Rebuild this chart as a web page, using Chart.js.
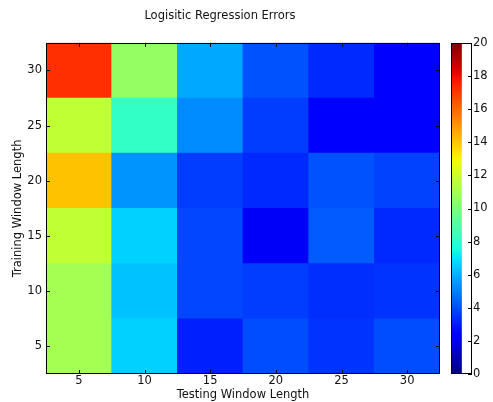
<!DOCTYPE html>
<html>
<head>
<meta charset="utf-8">
<script src="https://cdn.jsdelivr.net/npm/chart.js@4.4.1/dist/chart.umd.min.js"></script>
<style>
  html, body { margin: 0; padding: 0; background: #fff; }
  #wrap { position: relative; width: 493px; height: 402px; }
  #main { position: absolute; left: 0; top: 0; }
  #cbar { position: absolute; left: 440px; top: 0; }
</style>
</head>
<body>
<div id="wrap">
  <canvas id="main" width="493" height="402"></canvas>
  <canvas id="cbar" width="53" height="402"></canvas>
</div>
<script>
// ---- Data ----
const testingWindows = ['5', '10', '15', '20', '25', '30'];   // x categories
const trainingWindows = [5, 10, 15, 20, 25, 30];               // y rows
// errors per training window (row), across testing windows 5..30
const errTrain5  = [11.0, 6.6, 3.1, 4.0, 3.5, 4.0];
const errTrain10 = [11.0, 6.3, 3.9, 3.7, 3.4, 3.5];
const errTrain15 = [11.7, 6.6, 3.9, 2.1, 4.3, 3.3];
const errTrain20 = [14.1, 5.4, 3.7, 3.3, 4.1, 3.8];
const errTrain25 = [11.7, 8.2, 5.25, 3.7, 2.4, 2.4];
const errTrain30 = [17.2, 10.6, 5.8, 4.1, 3.3, 2.2];
const errorRows = [errTrain5, errTrain10, errTrain15, errTrain20, errTrain25, errTrain30];
const yTicks = [5, 10, 15, 20, 25, 30];
const cbTicks = [0, 2, 4, 6, 8, 10, 12, 14, 16, 18, 20];
const vmin = 0, vmax = 20;

// ---- jet colormap (matplotlib segment data) ----
function interp(segs, t) {
  for (let i = 1; i < segs.length; i++) {
    if (t <= segs[i][0]) {
      const [x0, y0] = segs[i - 1], [x1, y1] = segs[i];
      return y0 + (y1 - y0) * (t - x0) / (x1 - x0);
    }
  }
  return segs[segs.length - 1][1];
}
const JR = [[0, 0], [0.35, 0], [0.66, 1], [0.89, 1], [1, 0.5]];
const JG = [[0, 0], [0.125, 0], [0.375, 1], [0.64, 1], [0.91, 0], [1, 0]];
const JB = [[0, 0.5], [0.11, 1], [0.34, 1], [0.65, 0], [1, 0]];
function jet(v) {
  let t = (v - vmin) / (vmax - vmin);
  t = Math.max(0, Math.min(1, t));
  const r = Math.round(255 * interp(JR, t));
  const g = Math.round(255 * interp(JG, t));
  const b = Math.round(255 * interp(JB, t));
  return `rgb(${r},${g},${b})`;
}

const FONT = { family: '"DejaVu Sans", sans-serif', size: 11.5 };
const TXT = '#111';

// inward tick marks + frame, matplotlib-style
const frameTicks = {
  id: 'frameTicks',
  afterDatasetsDraw(chart) {
    const { ctx, chartArea: a, scales } = chart;
    ctx.save();
    ctx.strokeStyle = '#000';
    ctx.lineWidth = 1;
    const L = 4;
    ctx.beginPath();
    scales.x.ticks.forEach((t, i) => {
      const x = Math.round(scales.x.getPixelForTick(i)) + 0.5;
      ctx.moveTo(x, a.top); ctx.lineTo(x, a.top + L);
      ctx.moveTo(x, a.bottom); ctx.lineTo(x, a.bottom - L);
    });
    scales.y.ticks.forEach((t) => {
      const y = Math.round(scales.y.getPixelForValue(t.value)) + 0.5;
      ctx.moveTo(a.left, y); ctx.lineTo(a.left + L, y);
      ctx.moveTo(a.right, y); ctx.lineTo(a.right - L, y);
    });
    ctx.stroke();
    ctx.strokeRect(Math.round(a.left) + 0.5, Math.round(a.top) + 0.5,
                   Math.round(a.right - a.left) - 1, Math.round(a.bottom - a.top) - 1);
    ctx.restore();
  }
};

const datasets = trainingWindows.map((tw, r) => ({
  label: 'Training ' + tw,
  data: errorRows[r].map(() => [tw - 2.5, tw + 2.5]),
  backgroundColor: errorRows[r].map(jet),
  borderWidth: 0,
  barPercentage: 1,
  categoryPercentage: 1,
  grouped: false
}));

new Chart(document.getElementById('main'), {
  type: 'bar',
  data: { labels: testingWindows, datasets },
  plugins: [frameTicks],
  options: {
    responsive: false,
    animation: false,
    layout: { padding: { left: 0, right: 53, top: 0, bottom: 0 } },
    plugins: {
      legend: { display: false },
      tooltip: { enabled: false },
      title: {
        display: true,
        text: 'Logisitic Regression Errors',
        color: TXT,
        font: { ...FONT, weight: 'normal' },
        padding: { top: 9, bottom: 20 }
      }
    },
    scales: {
      x: {
        grid: { display: false, drawTicks: false },
        border: { display: false },
        ticks: { color: TXT, font: FONT, padding: 0, maxRotation: 0 },
        title: { display: true, text: 'Testing Window Length', color: TXT, font: FONT, padding: { top: 0, bottom: 0 } },
        afterFit(s) { s.height = 28; }
      },
      y: {
        type: 'linear',
        min: 2.5, max: 32.5,
        grid: { display: false, drawTicks: false },
        border: { display: false },
        afterBuildTicks(s) { s.ticks = yTicks.map(v => ({ value: v })); },
        ticks: { color: TXT, font: FONT, padding: 4 },
        title: { display: true, text: 'Training Window Length', color: TXT, font: FONT, padding: { top: 11, bottom: 0 } },
        afterFit(s) { s.width = 46; }
      }
    }
  }
});

// ---- colorbar ----
const cbTicksPlugin = {
  id: 'cbTicks',
  afterDatasetsDraw(chart) {
    const { ctx, chartArea: a, scales } = chart;
    ctx.save();
    ctx.strokeStyle = '#000';
    ctx.lineWidth = 1;
    ctx.beginPath();
    scales.y.ticks.forEach(t => {
      const y = Math.round(scales.y.getPixelForValue(t.value)) + 0.5;
      ctx.moveTo(a.right, y); ctx.lineTo(a.right - 4, y);
    });
    ctx.stroke();
    ctx.strokeRect(Math.round(a.left) + 0.5, Math.round(a.top) + 0.5,
                   Math.round(a.right - a.left) - 1, Math.round(a.bottom - a.top) - 1);
    ctx.restore();
  }
};

new Chart(document.getElementById('cbar'), {
  type: 'bar',
  data: {
    labels: ['cb'],
    datasets: [{
      data: [[vmin, vmax]],
      borderWidth: 0,
      barPercentage: 1,
      categoryPercentage: 1,
      backgroundColor(ctx) {
        const ch = ctx.chart;
        const a = ch.chartArea;
        if (!a) return '#000';
        const ys = ch.scales.y;
        const g = ch.ctx.createLinearGradient(0, ys.getPixelForValue(vmin), 0, ys.getPixelForValue(vmax));
        for (let i = 0; i <= 50; i++) {
          const v = vmin + (vmax - vmin) * i / 50;
          g.addColorStop(i / 50, jet(v));
        }
        return g;
      }
    }]
  },
  plugins: [cbTicksPlugin],
  options: {
    responsive: false,
    animation: false,
    layout: { padding: { left: 11, right: 0, top: 43, bottom: 28 } },
    plugins: { legend: { display: false }, tooltip: { enabled: false }, title: { display: false } },
    scales: {
      x: { display: false, offset: false },
      y: {
        position: 'right',
        min: vmin, max: vmax,
        grid: { display: false, drawTicks: false },
        border: { display: false },
        afterBuildTicks(s) { s.ticks = cbTicks.map(v => ({ value: v })); },
        ticks: { color: TXT, font: FONT, padding: 1 },
        afterFit(s) { s.width = 21; }
      }
    }
  }
});
</script>
</body>
</html>
